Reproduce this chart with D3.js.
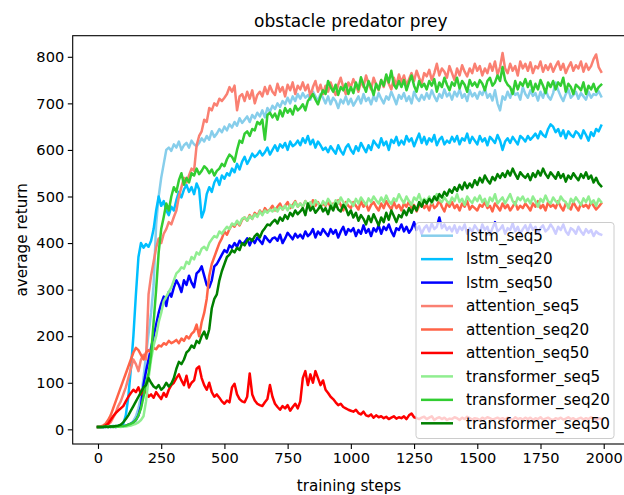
<!DOCTYPE html>
<html><head><meta charset="utf-8">
<script src="https://cdn.jsdelivr.net/npm/d3@7"></script>
<style>html,body{margin:0;padding:0;background:#fff;}svg{display:block;font-family:"DejaVu Sans",sans-serif;}</style>
</head><body><div id="chart"></div>
<script>
const title = "obstacle predator prey";
const xLabel = "training steps";
const yLabel = "average return";
const xTicks = [0,250,500,750,1000,1250,1500,1750,2000];
const yTicks = [0,100,200,300,400,500,600,700,800];
const stepSize = 10;
const seriesNames = ["lstm_seq5","lstm_seq20","lstm_seq50","attention_seq5","attention_seq20","attention_seq50","transformer_seq5","transformer_seq20","transformer_seq50"];
const seriesColors = ["#87CEEB","#00BFFF","#0000FF","#FA8072","#FF6347","#FF0000","#90EE90","#32CD32","#008000"];

const lstm_seq5 = [
5,5,6,5,6,6,5,7,6,7,
7,8,9,12,18,28,45,70,110,160,
205,250,310,440,500,540,570,600,605,598,
612,605,618,600,610,615,605,620,612,608,
615,625,618,630,622,640,628,635,645,638,
650,642,655,648,660,652,668,658,665,672,
660,675,668,680,672,685,670,690,682,695,
688,700,692,705,698,712,700,715,705,720,
710,722,712,718,708,725,715,705,720,712,
700,715,698,712,705,690,708,700,715,698,
710,695,705,715,700,720,705,712,698,716,
705,722,710,700,715,708,725,712,698,718,
710,722,705,715,700,725,712,705,718,708,
722,710,728,715,705,720,712,730,715,722,
708,725,715,730,712,720,705,728,715,722,
710,725,718,732,712,720,706,728,700,685,
715,708,725,712,730,718,722,708,735,720,
712,728,716,722,706,725,712,730,715,708,
722,745,728,715,705,720,730,712,718,725,
710,722,715,708,725,712,720,718,726,715];

const lstm_seq20 = [
5,5,5,6,5,6,7,6,8,9,
12,30,70,130,200,290,370,400,390,398,
392,405,430,470,500,480,490,470,460,478,
470,492,510,498,515,525,510,520,505,528,
515,455,470,505,520,510,530,540,525,545,
538,550,545,560,552,570,558,575,585,570,
580,592,585,590,598,588,595,605,590,600,
610,598,612,605,615,600,618,608,612,620,
610,625,615,630,612,622,605,618,610,600,
605,595,608,600,592,610,598,590,605,612,
600,592,608,598,615,605,595,610,600,620,
612,605,625,610,618,600,622,615,628,610,
620,612,630,618,625,608,622,635,615,628,
612,625,618,632,610,622,628,612,620,615,
628,618,630,612,625,620,635,615,628,620,
612,630,618,625,610,628,622,615,632,620,
600,618,625,615,628,620,612,630,625,618,
630,622,628,635,625,640,632,628,645,655,
650,638,645,630,642,625,640,632,628,640,
635,625,642,632,620,638,630,645,640,652];

const lstm_seq50 = [
5,5,5,5,6,5,6,5,6,7,
7,8,10,12,15,20,30,50,95,125,
150,175,200,225,250,270,285,265,295,285,
305,320,310,295,320,310,330,315,305,335,
340,350,330,310,305,320,350,355,365,375,
385,380,395,390,400,392,405,398,402,410,
395,408,400,412,405,398,415,408,402,410,
412,405,418,400,410,422,415,408,420,412,
418,410,425,415,420,430,412,425,418,430,
422,415,430,420,428,412,425,435,418,430,
425,432,415,428,420,438,422,430,415,432,
425,438,420,435,428,440,425,415,432,428,
440,425,435,422,430,445,428,436,420,432,
438,425,442,430,435,455,432,440,428,435,
425,438,422,435,428,440,420,432,425,438,
430,422,440,428,435,418,432,445,425,430,
438,420,432,428,442,425,435,420,430,438,
425,440,428,435,420,432,438,425,430,440,
432,420,435,428,440,425,418,432,428,420,
435,425,418,430,422,428,415,425,420,418];

const attention_seq5 = [
5,5,6,8,10,15,25,35,50,60,
75,90,110,130,150,140,125,150,160,150,
290,330,360,390,410,400,420,430,445,440,
456,470,500,520,540,530,545,560,555,610,
630,640,665,660,690,685,700,695,710,705,
712,720,735,725,738,685,715,720,705,725,
710,728,700,718,725,715,735,720,738,725,
718,742,725,735,715,740,728,745,720,738,
730,745,728,740,715,735,748,725,740,720,
738,725,745,730,718,740,755,735,720,745,
735,752,740,725,748,735,760,742,730,755,
740,728,750,735,758,742,730,755,738,762,
745,760,738,752,765,748,770,755,742,765,
758,772,750,765,785,760,775,768,755,780,
765,750,775,760,782,768,758,775,765,785,
770,780,760,775,765,785,770,790,762,778,
808,775,765,785,770,780,760,790,775,785,
770,788,765,780,775,790,768,782,772,785,
768,780,790,772,785,765,778,788,770,782,
775,790,768,785,772,780,795,805,778,768];

const attention_seq20 = [
5,6,8,12,20,30,45,60,75,90,
105,120,135,150,165,175,170,160,150,165,
170,165,175,172,180,178,185,182,190,185,
188,192,185,195,190,200,195,205,210,225,
200,230,250,280,330,355,370,385,400,410,
425,418,430,440,435,445,438,450,455,448,
460,452,465,458,470,462,475,468,472,480,
470,478,485,472,480,488,475,482,490,478,
485,478,490,482,475,492,480,488,478,485,
480,490,475,485,478,492,482,470,488,480,
475,488,480,472,490,478,485,470,482,488,
478,470,485,475,490,480,472,488,475,482,
470,485,478,490,475,482,468,480,488,475,
482,470,488,475,480,492,478,468,485,478,
488,475,482,470,485,478,490,472,480,475,
470,482,478,488,475,480,468,485,478,470,
485,475,482,470,478,488,472,480,475,485,
478,470,485,478,490,475,482,470,488,478,
482,475,490,478,470,485,480,472,488,478,
470,485,478,482,475,488,480,472,478,485];

const attention_seq50 = [
5,5,6,8,12,20,28,35,40,45,
50,60,70,78,85,80,90,75,85,80,
70,75,68,80,72,65,78,70,85,95,
100,110,118,105,95,115,90,100,105,130,
135,110,95,85,100,80,70,75,68,60,
55,62,58,90,98,75,65,60,58,70,
120,75,62,55,52,50,58,65,95,70,
55,48,42,50,45,52,40,48,55,45,
60,110,125,95,118,100,125,110,95,105,
85,78,70,65,58,52,55,48,45,42,
40,38,42,35,32,38,30,28,32,25,
30,26,28,24,27,22,25,28,23,26,
24,28,22,30,34,26,24,22,25,27,
22,25,28,20,24,26,22,25,20,23,
22,26,24,20,25,22,27,24,21,24,
23,20,25,22,26,24,21,23,25,22,
24,21,25,23,20,26,22,24,21,25,
22,25,20,24,22,26,21,23,25,22,
20,24,22,25,21,23,26,22,24,20,
23,25,21,24,22,26,23,20,24,22];

const transformer_seq5 = [
5,5,5,5,6,5,6,5,6,5,
6,6,7,8,10,12,15,20,28,60,
110,150,180,200,230,250,275,285,295,305,
320,335,340,348,345,360,355,370,365,380,
375,388,392,385,400,408,415,412,425,420,
428,435,430,442,438,448,440,452,455,448,
458,452,462,456,468,460,470,465,472,468,
475,468,478,472,480,470,482,476,488,478,
485,478,490,482,488,476,492,485,478,490,
482,495,486,478,492,485,498,488,480,494,
488,480,495,485,498,490,482,496,488,500,
492,485,498,488,502,490,484,496,490,505,
494,486,500,490,482,498,492,505,488,495,
490,500,485,496,505,492,488,498,490,485,
498,490,505,488,495,482,500,492,486,498,
490,502,488,495,480,498,490,505,485,492,
498,485,495,505,490,482,498,492,500,488,
495,485,500,490,478,495,488,502,490,485,
498,490,485,500,492,488,475,495,488,498,
490,482,496,488,500,485,492,480,495,488];

const transformer_seq20 = [
5,5,5,6,5,6,5,6,6,7,
7,8,10,12,15,20,30,45,70,100,
120,160,230,300,380,430,456,485,470,500,
520,510,535,550,525,540,530,550,545,560,
548,555,565,560,550,558,545,555,560,570,
565,580,590,585,575,600,620,615,635,640,
630,645,642,660,655,665,622,675,680,670,
678,665,685,672,690,680,688,676,695,685,
690,698,685,705,712,720,708,698,715,728,
720,748,735,725,740,718,735,728,742,720,
735,722,745,730,756,740,725,748,735,718,
742,730,750,738,762,745,770,740,732,748,
735,750,728,745,760,738,725,748,735,742,
730,748,738,752,725,745,735,755,740,728,
745,738,755,732,748,740,725,750,738,745,
735,750,742,728,748,755,738,745,760,748,
778,750,740,735,720,748,730,745,738,752,
735,748,725,742,730,750,738,722,745,735,
748,730,745,738,755,725,742,735,720,740,
735,728,745,720,738,730,742,725,735,740];

const transformer_seq50 = [
5,5,5,6,5,6,6,7,8,10,
15,22,30,40,50,60,70,80,90,95,
110,100,92,88,95,85,90,100,92,98,
110,130,145,140,150,165,170,180,175,190,
185,200,210,195,215,260,280,290,320,340,
355,370,375,385,380,390,385,400,395,405,
410,405,415,420,412,425,432,440,438,445,
450,442,455,448,460,452,465,458,470,462,
468,475,460,485,470,478,465,472,480,468,
475,462,480,470,485,472,468,482,475,460,
470,455,465,448,460,452,440,458,445,462,
450,438,455,445,465,450,470,458,445,460,
455,470,460,475,465,480,470,488,478,492,
485,495,488,500,492,505,498,510,502,515,
508,520,512,525,515,530,518,528,520,535,
525,540,530,545,535,528,542,535,548,540,
550,542,555,545,560,548,538,552,545,540,
548,535,550,542,555,545,560,548,540,552,
545,538,552,540,548,532,545,538,550,542,
535,548,540,552,538,545,530,540,528,522];

const seriesValues = [lstm_seq5,lstm_seq20,lstm_seq50,attention_seq5,attention_seq20,attention_seq50,transformer_seq5,transformer_seq20,transformer_seq50];

const W = 624, H = 495;
const m = {left:72.7, right:629, top:35.7, bottom:444};
const svg = d3.select("#chart").append("svg").attr("width",W).attr("height",H);
const x = d3.scaleLinear().domain([-100,2100]).range([m.left,m.right]);
const y = d3.scaleLinear().domain([-31.5,845.3]).range([m.bottom,m.top]);

svg.append("defs").append("clipPath").attr("id","clip")
  .append("rect").attr("x",m.left).attr("y",m.top).attr("width",m.right-m.left).attr("height",m.bottom-m.top);

const line = d3.line().x((d,i)=>x(i*stepSize)).y(d=>y(d));
const plot = svg.append("g").attr("clip-path","url(#clip)");
seriesValues.forEach((vals,k)=>{
  plot.append("path").datum(vals).attr("d",line)
    .attr("fill","none").attr("stroke",seriesColors[k]).attr("stroke-width",2.5)
    .attr("stroke-linejoin","round").attr("stroke-linecap","square");
});

const fs = 14.6;
const xAxis = svg.append("g").attr("transform",`translate(0,${m.bottom})`)
  .call(d3.axisBottom(x).tickValues(xTicks).tickFormat(d3.format("d")).tickSizeOuter(0).tickSize(4.9).tickPadding(3.6));
const yAxis = svg.append("g").attr("transform",`translate(${m.left},0)`)
  .call(d3.axisLeft(y).tickValues(yTicks).tickFormat(d3.format("d")).tickSizeOuter(0).tickSize(4.9).tickPadding(3.6));
[xAxis,yAxis].forEach(a=>{
  a.select(".domain").remove();
  a.selectAll(".tick line").attr("stroke","#000").attr("stroke-width",1.1);
  a.selectAll(".tick text").attr("fill","#000").style("font-size",fs+"px").style("font-family","DejaVu Sans");
});

// spines
svg.append("rect").attr("x",m.left).attr("y",m.top).attr("width",m.right-m.left).attr("height",m.bottom-m.top)
  .attr("fill","none").attr("stroke","#000").attr("stroke-width",1.1);

svg.append("text").attr("x",(m.left+m.right)/2).attr("y",27).attr("text-anchor","middle")
  .style("font-size","17px").text(title);
svg.append("text").attr("x",349).attr("y",491).attr("text-anchor","middle")
  .style("font-size","15.2px").text(xLabel);
svg.append("text").attr("transform",`translate(27,${(m.top+m.bottom)/2}) rotate(-90)`).attr("text-anchor","middle")
  .style("font-size","15.2px").text(yLabel);

// legend
const lg = svg.append("g");
lg.append("rect").attr("x",416).attr("y",222.5).attr("width",198).attr("height",216).attr("rx",3)
  .attr("fill","#fff").attr("fill-opacity",0.8).attr("stroke","#cccccc").attr("stroke-width",1);
seriesNames.forEach((n,i)=>{
  const cy = 235.7 + i*23.45;
  lg.append("line").attr("x1",421).attr("x2",453).attr("y1",cy).attr("y2",cy)
    .attr("stroke",seriesColors[i]).attr("stroke-width",2.5);
  lg.append("text").attr("x",466).attr("y",cy+5.3).style("font-size","15.2px").text(n);
});
</script></body></html>
